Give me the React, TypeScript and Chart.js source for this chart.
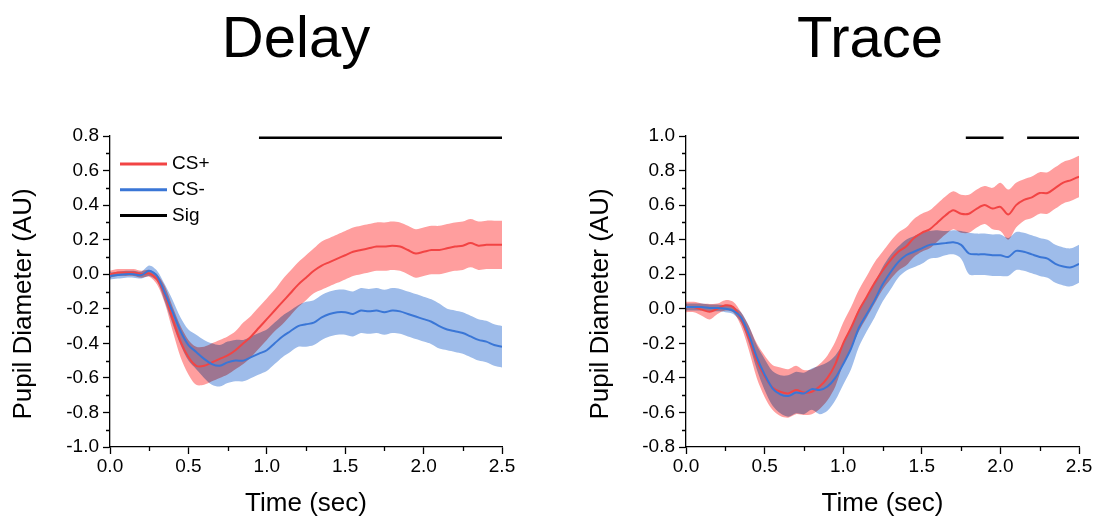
import React, { useEffect, useRef } from 'react';
import { Chart, registerables } from 'chart.js';

const FONT = '"Liberation Sans", Arial, Helvetica, sans-serif';

// ---------------- data ----------------
const times = [
  0.0, 0.05, 0.1, 0.15, 0.2, 0.25, 0.3, 0.35, 0.4, 0.45,
  0.5, 0.55, 0.6, 0.65, 0.7, 0.75, 0.8, 0.85, 0.9, 0.95,
  1.0, 1.05, 1.1, 1.15, 1.2, 1.25, 1.3, 1.35, 1.4, 1.45,
  1.5, 1.55, 1.6, 1.65, 1.7, 1.75, 1.8, 1.85, 1.9, 1.95,
  2.0, 2.05, 2.1, 2.15, 2.2, 2.25, 2.3, 2.35, 2.4, 2.45, 2.5,
];

const delayPlusMean = [
  0.0, 0.01, 0.01, 0.01, 0.0, 0.005, -0.03, -0.12, -0.26, -0.39,
  -0.48, -0.53, -0.53, -0.51, -0.49, -0.47, -0.44, -0.40, -0.36, -0.31,
  -0.26, -0.21, -0.16, -0.11, -0.06, -0.02, 0.02, 0.05, 0.07, 0.09,
  0.11, 0.13, 0.14, 0.15, 0.16, 0.16, 0.165, 0.16, 0.14, 0.12,
  0.13, 0.14, 0.14, 0.15, 0.16, 0.165, 0.18, 0.165, 0.17, 0.17, 0.17,
];
const delayPlusSem = [
  0.02, 0.02, 0.02, 0.02, 0.02, 0.02, 0.03, 0.05, 0.07, 0.09,
  0.10, 0.11, 0.11, 0.11, 0.11, 0.11, 0.11, 0.12, 0.12, 0.12,
  0.12, 0.12, 0.13, 0.13, 0.13, 0.13, 0.13, 0.14, 0.14, 0.14,
  0.14, 0.14, 0.14, 0.14, 0.14, 0.14, 0.14, 0.14, 0.14, 0.14,
  0.14, 0.14, 0.14, 0.14, 0.14, 0.14, 0.14, 0.14, 0.14, 0.14, 0.14,
];
const delayMinusMean = [
  -0.01, -0.005, 0.0, 0.0, -0.005, 0.02, -0.01, -0.11, -0.22, -0.33,
  -0.41, -0.45, -0.49, -0.52, -0.53, -0.51, -0.50, -0.50, -0.48, -0.46,
  -0.44, -0.40, -0.36, -0.33, -0.30, -0.29, -0.28, -0.25, -0.23, -0.22,
  -0.22, -0.23, -0.21, -0.215, -0.21, -0.22, -0.21, -0.215, -0.23, -0.245,
  -0.26, -0.275, -0.30, -0.32, -0.33, -0.34, -0.36, -0.38, -0.39, -0.41, -0.42,
];
const delayMinusSem = [
  0.02, 0.02, 0.02, 0.02, 0.02, 0.03, 0.03, 0.05, 0.07, 0.08,
  0.09, 0.10, 0.11, 0.12, 0.12, 0.12, 0.12, 0.12, 0.12, 0.12,
  0.12, 0.12, 0.12, 0.12, 0.12, 0.13, 0.13, 0.13, 0.13, 0.13,
  0.13, 0.13, 0.13, 0.13, 0.13, 0.13, 0.13, 0.13, 0.13, 0.13,
  0.13, 0.13, 0.13, 0.12, 0.12, 0.12, 0.12, 0.12, 0.12, 0.12, 0.12,
];

const tracePlusMean = [
  0.01, 0.01, -0.005, -0.017, 0.0, 0.02, 0.01, -0.06, -0.17, -0.30,
  -0.39, -0.455, -0.48, -0.49, -0.47, -0.485, -0.48, -0.45, -0.40, -0.32,
  -0.20, -0.11, -0.01, 0.07, 0.15, 0.22, 0.28, 0.33, 0.36, 0.41,
  0.44, 0.46, 0.50, 0.54, 0.57, 0.55, 0.55, 0.58, 0.60, 0.58,
  0.59, 0.545, 0.60, 0.63, 0.645, 0.67, 0.67, 0.70, 0.73, 0.745, 0.765,
];
const tracePlusSem = [
  0.03, 0.03, 0.035, 0.045, 0.03, 0.03, 0.03, 0.04, 0.07, 0.10,
  0.12, 0.13, 0.14, 0.14, 0.14, 0.13, 0.13, 0.13, 0.13, 0.13,
  0.12, 0.12, 0.12, 0.12, 0.12, 0.11, 0.11, 0.11, 0.11, 0.11,
  0.11, 0.11, 0.11, 0.11, 0.11, 0.11, 0.11, 0.11, 0.11, 0.12,
  0.14, 0.145, 0.13, 0.12, 0.12, 0.12, 0.12, 0.12, 0.12, 0.12, 0.12,
];
const traceMinusMean = [
  0.01, 0.01, 0.01, 0.005, 0.005, 0.0, -0.01, -0.05, -0.15, -0.28,
  -0.38, -0.46, -0.495, -0.505, -0.485, -0.49, -0.465, -0.47, -0.45, -0.40,
  -0.32, -0.23, -0.11, -0.03, 0.05, 0.14, 0.21, 0.27, 0.31, 0.33,
  0.35, 0.37, 0.375, 0.38, 0.385, 0.37, 0.32, 0.315, 0.315, 0.31,
  0.31, 0.30, 0.335, 0.33, 0.315, 0.30, 0.29, 0.26, 0.245, 0.24, 0.26,
];
const traceMinusSem = [
  0.02, 0.02, 0.02, 0.02, 0.02, 0.02, 0.02, 0.03, 0.05, 0.07,
  0.09, 0.10, 0.11, 0.12, 0.12, 0.12, 0.12, 0.14, 0.14, 0.13,
  0.12, 0.12, 0.11, 0.10, 0.10, 0.10, 0.10, 0.09, 0.09, 0.09,
  0.09, 0.08, 0.08, 0.07, 0.07, 0.08, 0.12, 0.12, 0.12, 0.12,
  0.12, 0.11, 0.11, 0.11, 0.11, 0.11, 0.11, 0.11, 0.11, 0.11, 0.11,
];

// significance bars: [start, end] in seconds
const delaySigStarts = [0.95];
const delaySigEnds = [2.5];
const traceSigStarts = [1.78, 2.17];
const traceSigEnds = [2.02, 2.5];

const legendLabels = ['CS+', 'CS-', 'Sig'];

// ---------------- styles ----------------
const RED = 'rgb(242,68,68)';
const BLUE = 'rgb(58,118,214)';
const RED_FILL = 'rgb(255,158,158)';
const BLUE_FILL = 'rgb(158,188,234)';

// multiply-blend for confidence bands (registered before Filler so it wraps the fill)
const bandBlend = {
  id: 'bandBlend',
  beforeDatasetDraw(chart: any, args: any) {
    const ds = chart.data.datasets[args.index];
    if (ds && ds.band) {
      chart.ctx.save();
      chart.ctx.globalCompositeOperation = 'multiply';
    }
  },
  afterDatasetDraw(chart: any, args: any) {
    const ds = chart.data.datasets[args.index];
    if (ds && ds.band) chart.ctx.restore();
  },
};
Chart.register(bandBlend, ...registerables);
Chart.defaults.font.family = FONT;
Chart.defaults.color = '#000';

type Panel = {
  title: string;
  titleX: number;
  yTitleX: number;
  yMin: number;
  yMax: number;
  yWidth: number;
  padRight: number;
  plusMean: number[];
  plusSem: number[];
  minusMean: number[];
  minusSem: number[];
  sigStarts: number[];
  sigEnds: number[];
  sigY: number;
  legend: boolean;
};

function makeDecor(p: Panel) {
  return {
    id: 'decor',
    afterDraw(chart: any) {
      const { ctx, chartArea } = chart;
      const xs = chart.scales.x;
      const ys = chart.scales.y;
      ctx.save();
      // minor ticks
      ctx.strokeStyle = '#000';
      ctx.lineWidth = 1.3;
      ctx.beginPath();
      const xt = xs.ticks.map((t: any) => t.value);
      for (let i = 0; i < xt.length - 1; i++) {
        const px = Math.round(xs.getPixelForValue((xt[i] + xt[i + 1]) / 2)) + 0.5;
        ctx.moveTo(px, chartArea.bottom);
        ctx.lineTo(px, chartArea.bottom + 4);
      }
      const yt = ys.ticks.map((t: any) => t.value);
      for (let i = 0; i < yt.length - 1; i++) {
        const py = Math.round(ys.getPixelForValue((yt[i] + yt[i + 1]) / 2)) + 0.5;
        ctx.moveTo(chartArea.left, py);
        ctx.lineTo(chartArea.left - 4, py);
      }
      ctx.stroke();

      // panel title
      ctx.fillStyle = '#000';
      ctx.font = `58px ${FONT}`;
      ctx.textAlign = 'center';
      ctx.textBaseline = 'alphabetic';
      ctx.fillText(p.title, p.titleX, 57);

      // y axis title
      ctx.save();
      ctx.translate(p.yTitleX, 304);
      ctx.rotate(-Math.PI / 2);
      ctx.font = `26px ${FONT}`;
      ctx.textAlign = 'center';
      ctx.textBaseline = 'middle';
      ctx.fillText('Pupil Diameter (AU)', 0, 0);
      ctx.restore();

      // legend
      if (p.legend) {
        const colors = [RED, BLUE, '#000'];
        legendLabels.forEach((lab, i) => {
          const y = chartArea.top + 28 + i * 25.8;
          ctx.strokeStyle = colors[i];
          ctx.lineWidth = 3;
          ctx.beginPath();
          ctx.moveTo(chartArea.left + 10, y);
          ctx.lineTo(chartArea.left + 57, y);
          ctx.stroke();
          ctx.fillStyle = '#000';
          ctx.font = `19px ${FONT}`;
          ctx.textAlign = 'left';
          ctx.textBaseline = 'middle';
          ctx.fillText(lab, chartArea.left + 62, y);
        });
      }
      ctx.restore();
    },
  };
}

function fmt(v: any) {
  const r = Math.round(Number(v) * 10) / 10;
  return (Math.abs(r) < 1e-9 ? 0 : r).toFixed(1);
}

function buildConfig(p: Panel): any {
  const pts = (f: (i: number) => number) => times.map((t, i) => ({ x: t, y: f(i) }));
  const band = { pointRadius: 0, borderWidth: 0, borderColor: 'rgba(0,0,0,0)', tension: 0.3, band: true, order: 10 };
  const datasets: any[] = [
    { ...band, label: 'CS+ upper', data: pts((i) => p.plusMean[i] + p.plusSem[i]), fill: '+1', backgroundColor: RED_FILL },
    { ...band, label: 'CS+ lower', data: pts((i) => p.plusMean[i] - p.plusSem[i]), fill: false },
    { ...band, label: 'CS- upper', data: pts((i) => p.minusMean[i] + p.minusSem[i]), fill: '+1', backgroundColor: BLUE_FILL },
    { ...band, label: 'CS- lower', data: pts((i) => p.minusMean[i] - p.minusSem[i]), fill: false },
    { label: 'CS+', data: pts((i) => p.plusMean[i]), borderColor: RED, borderWidth: 2, pointRadius: 0, tension: 0.3, fill: false, order: 2 },
    { label: 'CS-', data: pts((i) => p.minusMean[i]), borderColor: BLUE, borderWidth: 2, pointRadius: 0, tension: 0.3, fill: false, order: 1 },
  ];
  p.sigStarts.forEach((s, i) => {
    datasets.push({
      label: 'Sig',
      data: [{ x: s, y: p.sigY }, { x: p.sigEnds[i], y: p.sigY }],
      borderColor: '#000',
      borderWidth: 2.6,
      pointRadius: 0,
      fill: false,
      clip: false,
      order: 0,
    });
  });

  const tickFont = { size: 19, family: FONT };
  const grid = { drawOnChartArea: false, drawTicks: true, tickLength: 7, tickColor: '#000', tickWidth: 1.3 };
  const border = { display: true, color: '#000', width: 1.3 };

  return {
    type: 'line',
    data: { datasets },
    options: {
      animation: false,
      responsive: false,
      events: [],
      layout: { padding: { left: 0, top: 136, right: p.padRight, bottom: 0 } },
      plugins: { legend: { display: false }, tooltip: { enabled: false }, title: { display: false } },
      scales: {
        x: {
          type: 'linear',
          min: 0,
          max: 2.5,
          ticks: { stepSize: 0.5, callback: fmt, font: tickFont, color: '#000', padding: 1, maxRotation: 0, autoSkip: false },
          grid,
          border,
          title: { display: true, text: 'Time (sec)', font: { size: 26, family: FONT }, color: '#000', padding: { top: 0, bottom: 0 } },
          afterFit: (s: any) => { s.height = 72; },
        },
        y: {
          type: 'linear',
          min: p.yMin,
          max: p.yMax,
          ticks: { stepSize: 0.2, callback: fmt, font: tickFont, color: '#000', padding: 4, autoSkip: false },
          grid,
          border,
          afterFit: (s: any) => { s.width = p.yWidth; },
        },
      },
    },
    plugins: [makeDecor(p)],
  };
}

const delayPanel: Panel = {
  title: 'Delay', titleX: 296, yTitleX: 24, yMin: -1.0, yMax: 0.8, yWidth: 110, padRight: 46,
  plusMean: delayPlusMean, plusSem: delayPlusSem, minusMean: delayMinusMean, minusSem: delayMinusSem,
  sigStarts: delaySigStarts, sigEnds: delaySigEnds, sigY: 0.79, legend: true,
};
const tracePanel: Panel = {
  title: 'Trace', titleX: 322, yTitleX: 53, yMin: -0.8, yMax: 1.0, yWidth: 138, padRight: 16,
  plusMean: tracePlusMean, plusSem: tracePlusSem, minusMean: traceMinusMean, minusSem: traceMinusSem,
  sigStarts: traceSigStarts, sigEnds: traceSigEnds, sigY: 0.99, legend: false,
};

function PanelChart({ panel, width }: { panel: Panel; width: number }) {
  const ref = useRef<HTMLCanvasElement | null>(null);
  useEffect(() => {
    if (!ref.current) return;
    const chart = new Chart(ref.current, buildConfig(panel));
    return () => chart.destroy();
  }, [panel]);
  return <canvas ref={ref} width={width} height={519} style={{ display: 'block', width, height: 519 }} />;
}

export default function App() {
  return (
    <div style={{ position: 'absolute', left: 0, top: 0, width: 1095, height: 519, background: '#fff', overflow: 'hidden' }}>
      <div style={{ position: 'absolute', left: 0, top: 0, width: 548, height: 519 }}>
        <PanelChart panel={delayPanel} width={548} />
      </div>
      <div style={{ position: 'absolute', left: 548, top: 0, width: 547, height: 519 }}>
        <PanelChart panel={tracePanel} width={547} />
      </div>
    </div>
  );
}
